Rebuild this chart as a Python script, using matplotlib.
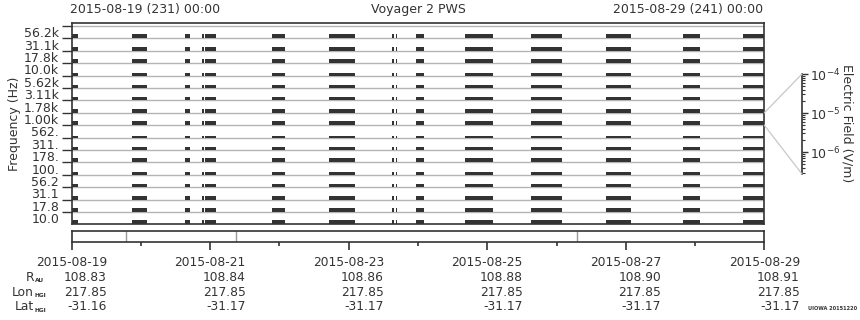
import matplotlib
matplotlib.use('Agg')
import matplotlib.pyplot as plt
from matplotlib.patches import ConnectionPatch

# frequency channels (bottom to top)
freq_labels = ['10.0', '17.8', '31.1', '56.2', '100.', '178.', '311.', '562.',
               '1.00k', '1.78k', '3.11k', '5.62k', '10.0k', '17.8k', '31.1k', '56.2k']
# relative signal height in each channel band (fraction of band)
chan_level = [0.36, 0.32, 0.32, 0.27, 0.22, 0.32, 0.24, 0.16,
              0.32, 0.32, 0.30, 0.27, 0.24, 0.32, 0.32, 0.32]

# data coverage, days after 2015-08-19 00:00
seg_start = [0.0, 0.875, 1.636, 1.886, 1.929, 2.896, 3.719, 4.625, 4.678,
             4.971, 5.679, 6.631, 7.719, 8.826, 9.691]
seg_end = [0.087, 1.087, 1.704, 1.906, 2.079, 3.080, 4.090, 4.649, 4.693,
           5.087, 6.083, 7.079, 8.071, 9.072, 10.0]

# mode changes shown in the lower strip (days)
mode_change = [0.788, 2.377, 7.300]

# bottom ephemeris table
tick_days = [0, 2, 4, 6, 8, 10]
tick_dates = ['2015-08-19', '2015-08-21', '2015-08-23', '2015-08-25', '2015-08-27', '2015-08-29']
r_au = ['108.83', '108.84', '108.86', '108.88', '108.90', '108.91']
lon_hgi = ['217.85', '217.85', '217.85', '217.85', '217.85', '217.85']
lat_hgi = ['-31.16', '-31.17', '-31.17', '-31.17', '-31.17', '-31.17']

W, H = 860, 320
ink = '#333333'
line_gray = '#b4b4b4'

fig = plt.figure(figsize=(W / 100, H / 100), dpi=100)


def fx(px):
    return px / W


def fy(py):
    return 1 - py / H


# main panel
x0, x1, ytop, ybot = 71.7, 764.3, 23.3, 224.4
ax = fig.add_axes([fx(x0), fy(ybot), fx(x1) - fx(x0), fy(ytop) - fy(ybot)])
nchan = len(freq_labels)
band_px = (ybot - 26.0) / nchan
ax.set_xlim(0, 10)
ax.set_ylim(0, nchan + (26.0 - ytop) / band_px)

for k in range(1, nchan + 1):
    ax.axhline(k, color=line_gray, lw=1.0, zorder=1)

segs = [(s, e - s) for s, e in zip(seg_start, seg_end)]
for i, lev in enumerate(chan_level):
    ax.broken_barh(segs, (i, lev), facecolors=ink, edgecolors='none', zorder=2)

ax.set_xticks([])
ax.set_yticks(range(1, nchan + 1))
ax.set_yticklabels([])
ax.set_yticks([i + 0.5 for i in range(nchan)], minor=True)
ax.set_yticklabels(freq_labels, minor=True)
ax.tick_params(axis='y', which='major', length=7, width=1, color=ink)
ax.tick_params(axis='y', which='minor', length=0, pad=9, labelsize=9, labelcolor=ink)
for sp in ax.spines.values():
    sp.set_color(ink)
    sp.set_linewidth(1.2)
ax.set_ylabel('Frequency (Hz)', fontsize=9, color=ink, labelpad=2)

# lower strip
sx_top, sx_bot = 231.0, 242.0
sax = fig.add_axes([fx(x0), fy(sx_bot), fx(x1) - fx(x0), fy(sx_top) - fy(sx_bot)])
sax.set_xlim(0, 10)
sax.set_ylim(0, 1)
sax.set_yticks([])
sax.set_xticks(tick_days)
sax.set_xticks([1, 3, 5, 7, 9], minor=True)
sax.set_xticklabels([])
sax.tick_params(axis='x', which='major', length=6, width=1.2, color=ink)
sax.tick_params(axis='x', which='minor', length=3, width=1.2, color=ink)
for d in mode_change:
    sax.axvline(d, color='#999999', lw=1.0)
for sp in sax.spines.values():
    sp.set_color(ink)
    sp.set_linewidth(1.2)

# ephemeris table
row_y = [262, 277.5, 292, 307]
px_per_day = (x1 - x0) / 10
for d, lab, r, lo, la in zip(tick_days, tick_dates, r_au, lon_hgi, lat_hgi):
    xc = x0 + d * px_per_day
    fig.text(fx(xc), fy(row_y[0]), lab, ha='center', va='center', fontsize=8.8, color=ink)
    for yy, val in zip(row_y[1:], [r, lo, la]):
        fig.text(fx(xc + 35.3), fy(yy), val, ha='right', va='center', fontsize=8.8, color=ink)

for yy, main, sub in zip(row_y[1:], ['R', 'Lon', 'Lat'], ['AU', 'HGI', 'HGI']):
    fig.text(fx(34), fy(yy), main, ha='right', va='center', fontsize=8.8, color=ink)
    fig.text(fx(34.5), fy(yy + 3.5), sub, ha='left', va='center', fontsize=4.2,
             fontweight='bold', color=ink)

# header
fig.text(fx(70), fy(9), '2015-08-19 (231) 00:00', ha='left', va='center', fontsize=9, color=ink)
fig.text(fx(418), fy(9), 'Voyager 2 PWS', ha='center', va='center', fontsize=9, color=ink)
fig.text(fx(763), fy(9), '2015-08-29 (241) 00:00', ha='right', va='center', fontsize=9, color=ink)

# electric field scale
c_top, c_bot, c_x = 74.0, 174.0, 802.0
cax = fig.add_axes([fx(c_x), fy(c_bot), 1e-4, fy(c_top) - fy(c_bot)])
cax.set_yscale('log')
cax.set_ylim(10 ** -6.56, 1e-4)
cax.set_xticks([])
cax.yaxis.tick_right()
for side in ['left', 'top', 'bottom']:
    cax.spines[side].set_visible(False)
cax.spines['right'].set_color(ink)
cax.spines['right'].set_linewidth(1.2)
cax.tick_params(axis='y', which='major', length=4, width=1, color=ink, labelsize=9,
                labelcolor=ink, pad=2)
cax.tick_params(axis='y', which='minor', length=2.2, width=0.8, color=ink)
cax.patch.set_visible(False)
fig.text(fx(846.7), fy(123), 'Electric Field (V/m)', rotation=270, ha='center', va='center',
         fontsize=9, color=ink)

for yv, ye in [(9, 1e-4), (8, 10 ** -6.56)]:
    con = ConnectionPatch(xyA=(10, yv), coordsA=ax.transData,
                          xyB=(0, ye), coordsB=cax.transData,
                          color='#c8c8c8', lw=0.9)
    fig.add_artist(con)

fig.text(fx(857), fy(308), 'UIOWA 20151220', ha='right', va='center', fontsize=3.6,
         fontweight='bold', color=ink)

fig.savefig('out.png', dpi=100)
